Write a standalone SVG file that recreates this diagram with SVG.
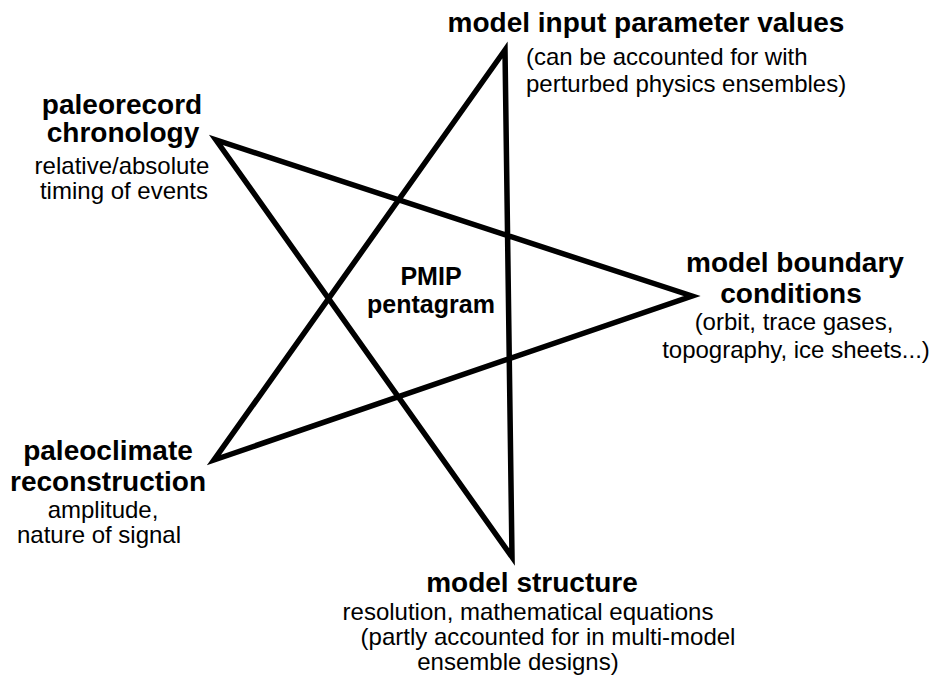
<svg xmlns="http://www.w3.org/2000/svg" width="931" height="677" viewBox="0 0 931 677">
<style>
text{font-family:"Liberation Sans",Arial,sans-serif;fill:#000}
.t{font-weight:bold;font-size:28px}
.s{font-size:24px}
.c{font-weight:bold;font-size:25px}
.m{text-anchor:middle}
</style>
<rect width="931" height="677" fill="#fff"/>
<g id="connectors">
<polygon points="505,50 214,460 692,296 216,140 512,557" fill="none" stroke="#000" stroke-width="5.5" stroke-linejoin="miter" stroke-miterlimit="10"/>
</g>
<g id="node-top">
<text class="t m" x="646" y="32">model input parameter values</text>
<text class="s" x="526" y="65">(can be accounted for with</text>
<text class="s" x="526" y="92">perturbed physics ensembles)</text>
</g>
<g id="node-upper-left">
<text class="t m" x="122" y="114">paleorecord</text>
<text class="t m" x="123" y="142">chronology</text>
<text class="s m" x="122" y="174">relative/absolute</text>
<text class="s m" x="124" y="199">timing of events</text>
</g>
<g id="node-right">
<text class="t m" x="795" y="272">model boundary</text>
<text class="t m" x="791" y="303">conditions</text>
<text class="s m" x="794" y="330">(orbit, trace gases,</text>
<text class="s m" x="796" y="358">topography, ice sheets...)</text>
</g>
<g id="node-lower-left">
<text class="t m" x="108" y="460">paleoclimate</text>
<text class="t m" x="108" y="491">reconstruction</text>
<text class="s m" x="103" y="518">amplitude,</text>
<text class="s m" x="99" y="543">nature of signal</text>
</g>
<g id="node-bottom">
<text class="t m" x="532" y="592">model structure</text>
<text class="s m" x="528" y="620">resolution, mathematical equations</text>
<text class="s m" x="548" y="645">(partly accounted for in multi-model</text>
<text class="s m" x="518" y="670">ensemble designs)</text>
</g>
<g id="node-center">
<text class="c m" x="431" y="285">PMIP</text>
<text class="c m" x="431" y="313">pentagram</text>
</g>
</svg>
